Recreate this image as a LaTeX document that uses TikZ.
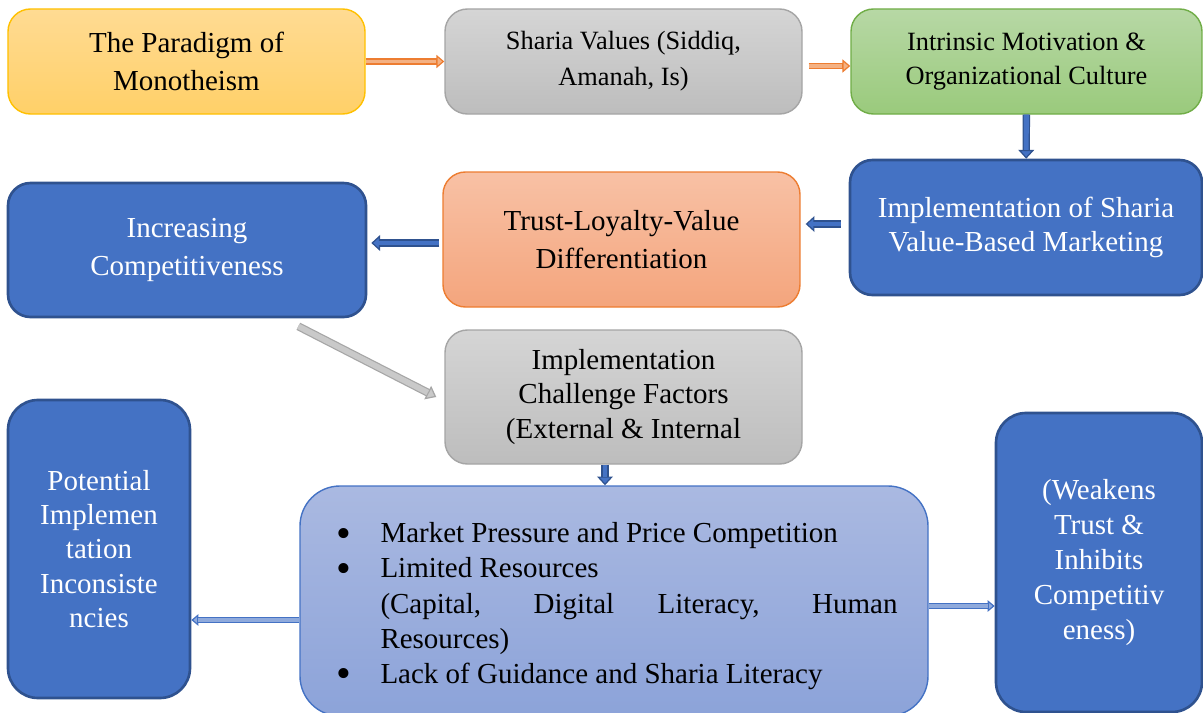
\documentclass[tikz,border=0pt]{standalone}
\usepackage{fontspec}
\setmainfont{Liberation Serif}
\usetikzlibrary{arrows.meta}

\definecolor{boxblue}{HTML}{4472C4}
\definecolor{boxblueline}{HTML}{2F528F}
\definecolor{yellowtop}{HTML}{FFDB93}
\definecolor{yellowbot}{HTML}{FFD068}
\definecolor{yellowline}{HTML}{FFC000}
\definecolor{graytop}{HTML}{D5D5D5}
\definecolor{graybot}{HTML}{BDBDBD}
\definecolor{grayline}{HTML}{A5A5A5}
\definecolor{greentop}{HTML}{B7D8A5}
\definecolor{greenbot}{HTML}{9ACA7C}
\definecolor{greenline}{HTML}{70AD47}
\definecolor{orangetop}{HTML}{F8C1A5}
\definecolor{orangebot}{HTML}{F4A57D}
\definecolor{orangeline}{HTML}{ED7D31}
\definecolor{orangefill}{HTML}{F4B183}
\definecolor{listtop}{HTML}{AAB9E1}
\definecolor{listbot}{HTML}{8CA3D9}
\definecolor{palefill}{HTML}{8FAADC}
\definecolor{arrowgray}{HTML}{C9C9C9}
\definecolor{arrowgrayline}{HTML}{A6A6A6}

\newcommand{\bigdot}{\smash{\raisebox{-2.6pt}{\fontsize{24}{20}\selectfont\textbullet}}}

\tikzset{
    box/.style={rounded corners=0.45cm, align=center, inner sep=0pt, line width=0.8pt,
        font=\fontsize{16.5}{21.5}\selectfont},
    bluebox/.style={box, fill=boxblue, draw=boxblueline, line width=1.5pt, text=white},
    yellowbox/.style={box, top color=yellowtop, bottom color=yellowbot, draw=yellowline},
    graybox/.style={box, top color=graytop, bottom color=graybot, draw=grayline},
    greenbox/.style={box, top color=greentop, bottom color=greenbot, draw=greenline},
    orangebox/.style={box, top color=orangetop, bottom color=orangebot, draw=orangeline},
    listbox/.style={box, rounded corners=0.8cm, top color=listtop, bottom color=listbot, draw=boxblue,
        font=\fontsize{16.5}{20}\selectfont},
    % border, fill, shaft width, head width, head length
    blockarrow/.style n args={5}{draw=#1, line width=#3,
        -{Triangle[width=#4, length=#5, line width=0.7pt, fill=#2]},
        postaction={draw=#2, line width=#3-1.4pt, shorten >=#5, -}},
    orangeflow/.style={blockarrow={orangeline}{orangefill}{3.6pt}{7.5pt}{4.5pt}},
    blueflow/.style={blockarrow={boxblueline}{boxblue}{4.2pt}{9pt}{5pt}},
    grayflow/.style={blockarrow={arrowgrayline}{arrowgray}{4.6pt}{8.5pt}{5.5pt}},
    paleflow/.style={blockarrow={boxblue}{palefill}{3.2pt}{6.5pt}{4pt}}
}

\begin{document}
\begin{tikzpicture}
    \useasboundingbox (0,0) rectangle (24.06,-14.26);
    % top row
    \node[yellowbox, minimum width=7.14cm, minimum height=2.1cm] (paradigm) at (3.73,-1.23)
        {The Paradigm of\\Monotheism};
    \node[graybox, minimum width=7.14cm, minimum height=2.1cm, font=\fontsize{15}{20.5}\selectfont] (sharia) at (12.47,-1.23)
        {Sharia Values (Siddiq,\\Amanah, Is)};
    \node[greenbox, minimum width=7.02cm, minimum height=2.1cm, font=\fontsize{15}{19.5}\selectfont] (intrinsic) at (20.53,-1.23)
        {Intrinsic Motivation \&\\Organizational Culture};
    % second row
    \node[bluebox, minimum width=7.04cm, minimum height=2.7cm, font=\fontsize{16.5}{19}\selectfont] (implement) at (20.52,-4.55)
        {Implementation of Sharia\\Value-Based Marketing};
    \node[orangebox, minimum width=7.14cm, minimum height=2.7cm] (trust) at (12.43,-4.79)
        {Trust-Loyalty-Value\\Differentiation};
    \node[bluebox, minimum width=7.16cm, minimum height=2.68cm] (increasing) at (3.74,-5.0)
        {Increasing\\Competitiveness};
    % challenges
    \node[graybox, minimum width=7.14cm, minimum height=2.68cm, font=\fontsize{16.5}{19.5}\selectfont] (challenge) at (12.47,-7.94)
        {Implementation\\Challenge Factors\\(External \& Internal};
    \node[listbox, minimum width=12.56cm, minimum height=4.6cm] (factors) at (12.28,-12.02)
        {\tolerance=10000 \hyphenpenalty=10000
        \raisebox{-0.1cm}[\height][\depth]{\begin{tabular}{@{}p{1.0cm}@{}p{10.34cm}@{}}
            \hspace*{0.12cm}\bigdot & Market Pressure and Price Competition\\
            \hspace*{0.12cm}\bigdot & Limited Resources\newline(Capital, Digital Literacy, Human Resources)\\
            \hspace*{0.12cm}\bigdot & Lack of Guidance and Sharia Literacy
        \end{tabular}}};
    \node[bluebox, rounded corners=0.6cm, minimum width=3.64cm, minimum height=5.96cm, font=\fontsize{16.5}{19.5}\selectfont] (potential) at (1.98,-10.98)
        {Potential\\Implemen\\tation\\Inconsiste\\ncies};
    \node[bluebox, rounded corners=0.6cm, minimum width=4.12cm, minimum height=5.98cm, font=\fontsize{16.5}{20}\selectfont] (weakens) at (21.98,-11.25)
        {(Weakens\\Trust \&\\Inhibits\\Competitiv\\eness)};

    % arrows
    \draw[orangeflow] (paradigm) -- (sharia);
    \draw[orangeflow, shorten <=0.12cm] ([yshift=-0.09cm]sharia.east) -- ([yshift=-0.09cm]intrinsic.west);
    \draw[blueflow] (intrinsic) -- (implement);
    \coordinate (implout) at ([yshift=0.07cm]implement.west);
    \draw[blueflow, shorten <=0.16cm, shorten >=0.1cm] (implout) -- (implout -| trust.east);
    \coordinate (trustout) at ([yshift=-0.07cm]trust.west);
    \draw[blueflow, shorten <=0.06cm, shorten >=0.08cm] (trustout) -- (trustout -| increasing.east);
    \coordinate (diagstart) at ([xshift=-1.38cm, yshift=-0.16cm]increasing.south east);
    \draw[grayflow] (diagstart) -- ([xshift=-0.16cm]challenge.west);
    \coordinate (drop) at ([xshift=-0.37cm]challenge.south);
    \draw[blueflow] (drop) -- (drop |- factors.north);
    \coordinate (leftout) at ([yshift=-0.38cm]factors.west);
    \draw[paleflow] (leftout) -- (leftout -| potential.east);
    \coordinate (rightout) at ([yshift=-0.1cm]factors.east);
    \draw[paleflow] (rightout) -- (rightout -| weakens.west);
\end{tikzpicture}
\end{document}
